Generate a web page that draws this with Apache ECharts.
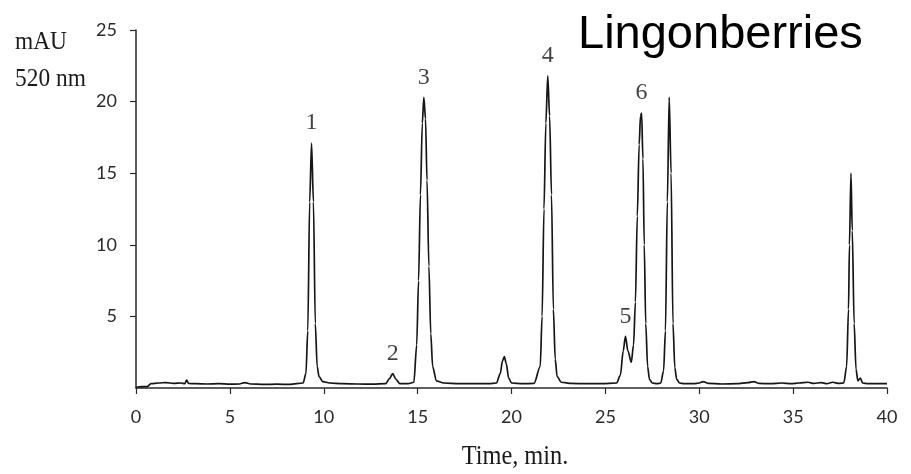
<!DOCTYPE html>
<html>
<head>
<meta charset="utf-8">
<title>Lingonberries HPLC chromatogram</title>
<script src="https://cdn.jsdelivr.net/npm/echarts@6/dist/echarts.min.js"></script>
<style>
  html, body { margin: 0; padding: 0; background: #ffffff; }
  #chart { width: 911px; height: 474px; }
</style>
</head>
<body>
<div id="chart"></div>
<script>
// Retention time (min) and detector signal at 520 nm (mAU)
const timeMin = [
  0, 0.3, 0.6, 0.8, 1.2, 1.6, 2.0, 2.4, 2.6, 2.7, 2.8, 3.2, 3.8, 4.4, 5.0, 5.5, 5.8, 6.1, 6.8, 7.5, 8.2,
  8.9, 9.05, 9.15, 9.25, 9.35, 9.45, 9.55, 9.65, 9.75, 9.95, 10.3, 11.0, 11.8, 12.6,
  13.3, 13.5, 13.67, 13.85, 14.05, 14.5,
  14.8, 14.95, 15.05, 15.15, 15.25, 15.33, 15.42, 15.5, 15.6, 15.7, 15.8, 16.0, 16.4, 17.2, 18.0, 18.8,
  19.2, 19.4, 19.52, 19.62, 19.72, 19.85, 20.0, 20.6, 21.2,
  21.53, 21.63, 21.73, 21.83, 21.93, 22.03, 22.13, 22.23, 22.33, 22.43, 22.65, 23.2, 24.0, 24.8,
  25.6, 25.8, 25.95, 26.07, 26.2, 26.38, 26.5, 26.6, 26.7, 26.8, 26.87, 26.93, 27.0, 27.07, 27.15, 27.25, 27.35, 27.5,
  27.75, 27.95, 28.1, 28.2, 28.3, 28.4, 28.5, 28.6, 28.7, 28.8, 28.95, 29.2, 29.7, 30.0, 30.2, 30.5,
  31.2, 32.0, 32.6, 32.9, 33.2, 33.8, 34.4, 34.9, 35.3, 35.8, 36.1, 36.5, 36.8, 37.1, 37.45,
  37.7, 37.85, 37.95, 38.0, 38.08, 38.15, 38.25, 38.35, 38.45, 38.58, 38.7, 39.0, 39.5, 40.0
];
const signalMAU = [
  0.05, 0.1, 0.1, 0.3, 0.35, 0.38, 0.32, 0.35, 0.3, 0.55, 0.32, 0.3, 0.28, 0.3, 0.27, 0.28, 0.38, 0.28, 0.25, 0.27, 0.25,
  0.35, 1.0, 4.0, 13.0, 17.1, 13.0, 4.5, 1.5, 0.8, 0.45, 0.35, 0.3, 0.28, 0.27,
  0.3, 0.65, 1.0, 0.6, 0.3, 0.3,
  0.4, 3.0, 7.5, 13.5, 18.5, 20.3, 18.8, 14.5, 8.5, 3.8, 1.5, 0.5, 0.35, 0.3, 0.3, 0.3,
  0.35, 1.0, 1.9, 2.2, 1.7, 0.7, 0.35, 0.3, 0.32,
  1.5, 5.0, 12.5, 18.5, 21.8, 19.0, 13.5, 5.5, 2.0, 0.8, 0.4, 0.32, 0.3, 0.3,
  0.35, 0.9, 2.6, 3.6, 2.6, 1.8, 3.0, 6.0, 12.0, 17.0, 19.0, 19.2, 16.0, 10.0, 4.5, 1.5, 0.6, 0.35,
  0.3, 0.35, 1.2, 4.0, 13.0, 20.3, 15.0, 4.5, 1.4, 0.6, 0.35, 0.3, 0.3, 0.35, 0.45, 0.32,
  0.28, 0.3, 0.38, 0.45, 0.32, 0.3, 0.35, 0.3, 0.35, 0.4, 0.32, 0.38, 0.3, 0.4, 0.32,
  0.35, 1.5, 5.5, 10.0, 15.0, 11.0, 4.5, 1.3, 0.5, 0.7, 0.35, 0.3, 0.3, 0.3
];

// Numbered peaks: label, retention time, apex height
const peakIds = ['1', '2', '3', '4', '5', '6'];
const peakTimes = [9.35, 13.67, 15.33, 21.93, 26.07, 26.93];
const peakHeights = [17.1, 1.0, 20.3, 21.8, 3.6, 19.2];

// Axis ranges and ticks
const xRange = [0, 40, 5];
const yRange = [0, 25, 5];

const trace = timeMin.map((t, i) => [t, signalMAU[i]]);
const peaks = peakIds.map((id, i) => ({ value: [peakTimes[i], peakHeights[i]], name: id }));

const ink = '#161616';
const axisInk = '#2a2a2a';
const serif = '"Liberation Serif", "DejaVu Serif", serif';

const chart = echarts.init(document.getElementById('chart'), null, { renderer: 'canvas' });
chart.setOption({
  animation: false,
  backgroundColor: '#ffffff',
  grid: { left: 136, right: 24, top: 30, bottom: 86, containLabel: false },
  xAxis: {
    type: 'value',
    min: xRange[0], max: xRange[1], interval: xRange[2],
    axisLine: { show: true, onZero: false, lineStyle: { color: axisInk, width: 1.5 } },
    axisTick: { show: true, length: 6, lineStyle: { color: axisInk, width: 1.2 } },
    axisLabel: { margin: 20, color: '#2a2a2a', fontFamily: 'Lato', fontSize: 18 },
    splitLine: { show: false }
  },
  yAxis: {
    type: 'value',
    min: yRange[0], max: yRange[1], interval: yRange[2],
    axisLine: { show: true, lineStyle: { color: axisInk, width: 1.5 } },
    axisTick: { show: true, length: 6, lineStyle: { color: axisInk, width: 1.2 } },
    axisLabel: { margin: 19, color: '#2a2a2a', fontFamily: 'Lato', fontSize: 18, showMinLabel: false },
    splitLine: { show: false }
  },
  series: [
    {
      type: 'line',
      data: trace,
      showSymbol: false,
      smooth: 0.3,
      smoothMonotone: 'x',
      sampling: false,
      lineStyle: { color: ink, width: 1.7 },
      z: 3
    },
    {
      type: 'scatter',
      data: peaks,
      symbolSize: 0,
      silent: true,
      label: {
        show: true,
        position: 'top',
        distance: 8,
        formatter: p => p.name,
        color: '#111',
        fontFamily: serif,
        fontSize: 24
      },
      z: 4
    }
  ],
  graphic: [
    {
      type: 'text', x: 15, y: 42, scaleX: 0.9,
      style: { text: 'mAU', fill: '#1a1a1a', font: '26px ' + serif, verticalAlign: 'middle', textVerticalAlign: 'middle' }
    },
    {
      type: 'text', x: 15, y: 79, scaleX: 0.9,
      style: { text: '520 nm', fill: '#1a1a1a', font: '26px ' + serif, verticalAlign: 'middle', textVerticalAlign: 'middle' }
    },
    {
      type: 'text', x: 515, y: 457, scaleX: 0.87,
      style: { text: 'Time, min.', fill: '#1a1a1a', font: '28px ' + serif, align: 'center', textAlign: 'center', verticalAlign: 'middle', textVerticalAlign: 'middle' }
    },
    {
      type: 'text', x: 578, y: 35,
      style: { text: 'Lingonberries', fill: '#000', font: '47px "Liberation Sans", Arial, sans-serif', verticalAlign: 'middle', textVerticalAlign: 'middle' }
    }
  ]
});
</script>
</body>
</html>
